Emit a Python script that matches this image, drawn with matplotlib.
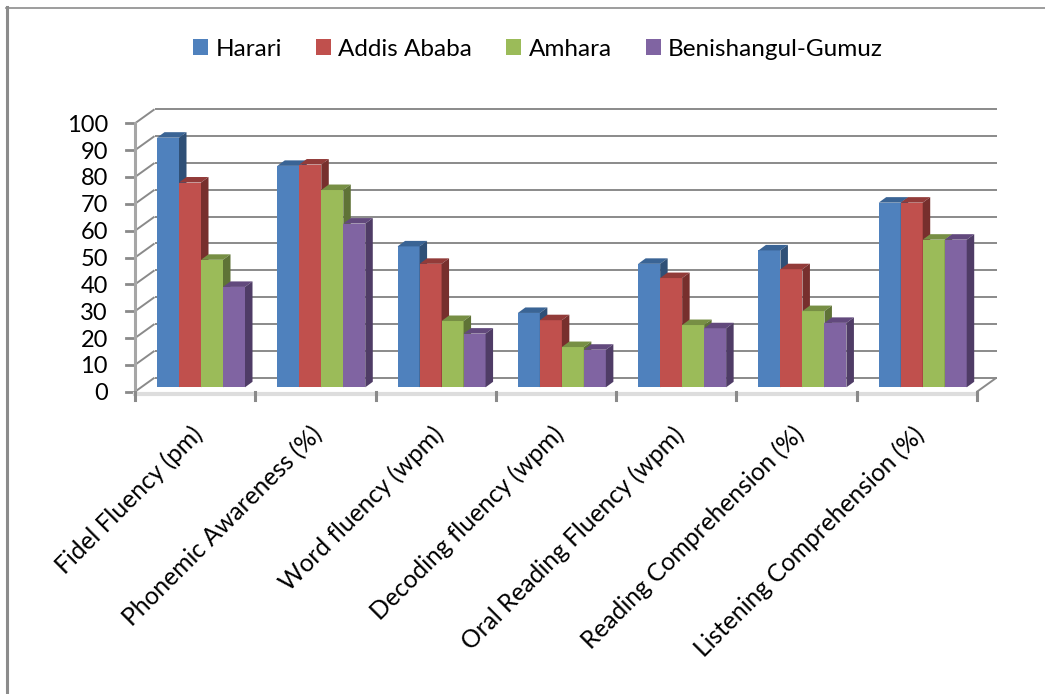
import matplotlib
matplotlib.use("Agg")
import matplotlib.pyplot as plt
from matplotlib.patches import Patch, Polygon

plt.rcParams['font.family'] = ['Lato', 'DejaVu Sans']

categories = ["Fidel Fluency (pm)", "Phonemic Awareness (%)", "Word fluency (wpm)",
              "Decoding fluency (wpm)", "Oral Reading Fluency (wpm)",
              "Reading Comprehension (%)", "Listening Comprehension (%)"]
regions = ["Harari", "Addis Ababa", "Amhara", "Benishangul-Gumuz"]
harari = [93, 82.5, 52.5, 27.7, 46, 51, 68.8]
addis = [76.3, 83, 46, 25, 40.7, 44, 68.8]
amhara = [47.5, 73.5, 24.7, 15, 23.2, 28.4, 55]
benishangul = [37.4, 61, 20, 14, 22, 24, 55]
series = [harari, addis, amhara, benishangul]
y_ticks = list(range(0, 101, 10))

# couleurs : face, dessus, cote
front_col = ["#4F81BD", "#C0504D", "#9BBB59", "#8064A2"]
top_col = ["#3A6495", "#923B39", "#778F44", "#62497D"]
side_col = ["#2F5077", "#772F2D", "#5F7336", "#4F3C66"]
grid_col = "#8A8A8A"

W, H = 1045, 694
fig = plt.figure(figsize=(W / 100, H / 100), dpi=100)
# axes calés sur le plan avant du graphique (en pixels)
x0, x1, y0, y100 = 135, 977, 391.7, 123.3
ax = fig.add_axes([x0 / W, 1 - y0 / H, (x1 - x0) / W, (y0 - y100) / H])
ax.set_xlim(0, len(categories))
ax.set_ylim(0, 100)
for s in ax.spines.values():
    s.set_visible(False)

px_x = len(categories) / (x1 - x0)
px_y = 100 / (y0 - y100)
wall_dx, wall_dy = 19.5 * px_x, 14 * px_y
bar_w = 22 * px_x
bar_dx, bar_dy = 6 * px_x, 4.4 * px_y
depth_x, depth_y = 7.5 * px_x, 5.5 * px_y
line_kw = dict(color=grid_col, lw=1.4, clip_on=False, solid_capstyle="butt")

# murs : grille du fond et diagonales du mur gauche
for v in y_ticks:
    ax.plot([wall_dx, len(categories) + wall_dx], [v + wall_dy, v + wall_dy], zorder=1, **line_kw)
    ax.plot([0, wall_dx], [v, v + wall_dy], zorder=1, **line_kw)
    ax.plot([-9 * px_x, 0], [v, v], zorder=2, color=grid_col, lw=2, clip_on=False)
ax.plot([0, 0], [0, 100], zorder=2, color="#A6A6A6", lw=2.2, clip_on=False)

# sol
ax.plot([0, len(categories)], [-0.7, -0.7], color="#DDDDDD", lw=3, zorder=2, clip_on=False)
ax.plot([len(categories), len(categories) + wall_dx], [0, wall_dy], zorder=2, **line_kw)
for i in range(len(categories) + 1):
    ax.plot([i, i], [0, -8 * px_y], color=grid_col, lw=2.2, zorder=2, clip_on=False)

# barres
for c in range(len(categories)):
    for j, vals in enumerate(series):
        left = c + bar_dx + 16 * px_x + j * bar_w
        base = bar_dy
        top = base + vals[c]
        z = 3 + c * 10 + j
        ax.bar(left, vals[c], bar_w, bottom=base, align="edge", color=front_col[j], zorder=z, clip_on=False)
        ax.add_patch(Polygon([(left, top), (left + bar_w, top),
                              (left + bar_w + depth_x, top + depth_y), (left + depth_x, top + depth_y)],
                             closed=True, fc=top_col[j], ec="none", zorder=z, clip_on=False))
        ax.add_patch(Polygon([(left + bar_w, base), (left + bar_w + depth_x, base + depth_y),
                              (left + bar_w + depth_x, top + depth_y), (left + bar_w, top)],
                             closed=True, fc=side_col[j], ec="none", zorder=z, clip_on=False))

ax.set_yticks(y_ticks)
ax.set_yticklabels([str(v) for v in y_ticks], fontsize=17, color="black")
ax.tick_params(axis="y", length=0, pad=19.5)
ax.set_xticks([i + 0.46 for i in range(len(categories))])
ax.set_xticklabels(categories, rotation=45, ha="right", rotation_mode="anchor", fontsize=17.7, color="black")
ax.tick_params(axis="x", length=0, pad=22)

handles = [Patch(fc=front_col[j], ec="none", label=regions[j]) for j in range(len(regions))]
fig.legend(handles=handles, ncols=4, loc="center", bbox_to_anchor=(538 / W, 1 - 49 / H), frameon=False,
           fontsize=17.5, handlelength=0.62, handleheight=0.6, handletextpad=0.3, columnspacing=1.4,
           labelcolor="black")

# cadre
for xs, ys, lw in [([7, 7], [7, H], 2.2), ([6, W], [7.5, 7.5], 1.2)]:
    fig.add_artist(plt.Line2D([x / W for x in xs], [1 - y / H for y in ys], color="#8C8C8C", lw=lw))

fig.savefig("out.png", dpi=100)
